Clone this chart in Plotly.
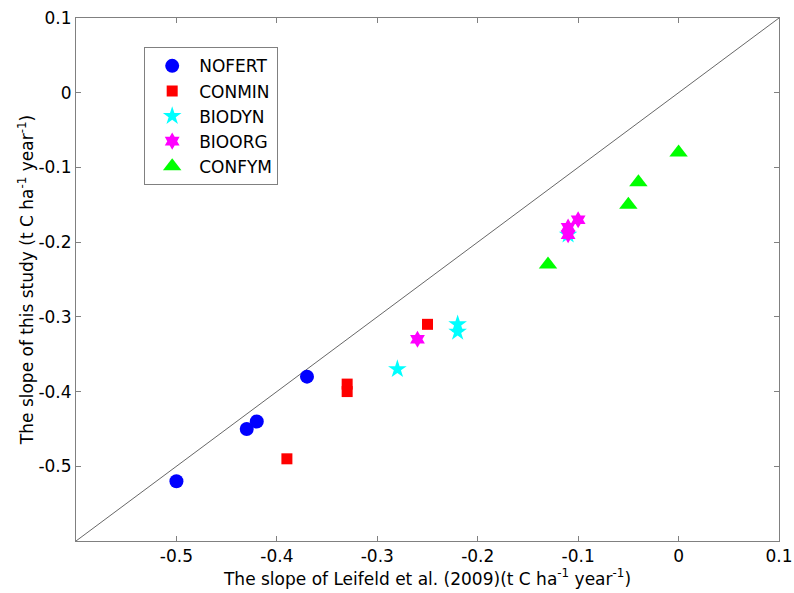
import plotly.graph_objects as go

# Leifeld et al. (2009) slopes (x) vs this study (y)
nofert_x = [-0.50, -0.43, -0.42, -0.37]
nofert_y = [-0.52, -0.45, -0.44, -0.38]
conmin_x = [-0.39, -0.33, -0.33, -0.25]
conmin_y = [-0.49, -0.39, -0.40, -0.31]
biodyn_x = [-0.28, -0.22, -0.22, -0.11]
biodyn_y = [-0.37, -0.31, -0.32, -0.19]
bioorg_x = [-0.26, -0.11, -0.11, -0.10]
bioorg_y = [-0.33, -0.18, -0.19, -0.17]
confym_x = [-0.13, -0.05, -0.04, 0.00]
confym_y = [-0.23, -0.15, -0.12, -0.08]
line_x = [-0.6, 0.1]
line_y = [-0.6, 0.1]
tick_vals = [-0.5, -0.4, -0.3, -0.2, -0.1, 0, 0.1]
tick_text = ["-0.5", "-0.4", "-0.3", "-0.2", "-0.1", "0", "0.1"]

FONT = "DejaVu Sans"
FS = 17

fig = go.Figure()
fig.add_trace(go.Scatter(x=line_x, y=line_y, mode="lines",
                         line=dict(color="#404040", width=0.8),
                         showlegend=False, hoverinfo="skip"))
fig.add_trace(go.Scatter(x=nofert_x, y=nofert_y, mode="markers", name="NOFERT",
                         marker=dict(symbol="circle", size=14, color="#0000ff", line=dict(width=0))))
fig.add_trace(go.Scatter(x=conmin_x, y=conmin_y, mode="markers", name="CONMIN",
                         marker=dict(symbol="square", size=11, color="#ff0000", line=dict(width=0))))
fig.add_trace(go.Scatter(x=biodyn_x, y=biodyn_y, mode="markers", name="BIODYN",
                         marker=dict(symbol="star", size=14, color="#00ffff", line=dict(width=0))))
fig.add_trace(go.Scatter(x=bioorg_x, y=bioorg_y, mode="markers", name="BIOORG",
                         marker=dict(symbol="hexagram", size=13, color="#ff00ff", line=dict(width=0))))
fig.add_trace(go.Scatter(x=confym_x, y=confym_y, mode="markers", name="CONFYM",
                         marker=dict(symbol="triangle-up", size=16, color="#00ff00", line=dict(width=0))))

axis_common = dict(
    tickvals=tick_vals, ticktext=tick_text,
    ticks="inside", ticklen=5, tickcolor="#808080", tickwidth=1,
    showline=True, linecolor="#808080", linewidth=1, mirror="ticks",
    showgrid=False, zeroline=False, automargin=False,
    tickfont=dict(family=FONT, size=FS, color="black"),
)

fig.update_layout(
    width=794, height=593,
    margin=dict(l=76, r=15, t=18, b=52),
    paper_bgcolor="white", plot_bgcolor="white",
    font=dict(family=FONT, size=FS, color="black"),
    xaxis=dict(range=[-0.6, 0.1], **axis_common,
               title=dict(text="The slope of Leifeld et al. (2009)(t C ha<sup>-1</sup> year<sup>-1</sup>)",
                          font=dict(family=FONT, size=FS), standoff=4)),
    yaxis=dict(range=[-0.6, 0.1], **axis_common,
               title=dict(text="The slope of this study (t C ha<sup>-1</sup> year<sup>-1</sup>)",
                          font=dict(family=FONT, size=FS), standoff=0)),
    legend=dict(x=0.097, y=0.944, xanchor="left", yanchor="top",
                bgcolor="white", bordercolor="#808080", borderwidth=1,
                font=dict(family=FONT, size=FS, color="black"),
                itemwidth=44, tracegroupgap=0),
    showlegend=True,
)

fig.write_html("out.html")
